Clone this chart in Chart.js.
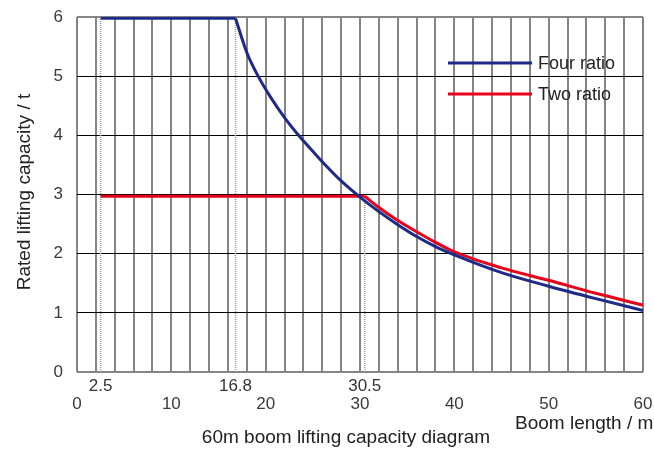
<!DOCTYPE html>
<html><head><meta charset="utf-8">
<script src="https://cdn.jsdelivr.net/npm/chart.js@4.4.0/dist/chart.umd.min.js"></script>
<style>html,body{margin:0;padding:0;background:#fff}#wrap{width:654px;height:449px;position:relative}</style>
</head><body><div id="wrap"><canvas id="c"></canvas></div>
<script>
// ---- data ----
const xTickValues = [0, 10, 20, 30, 40, 50, 60];
const yTickValues = [0, 1, 2, 3, 4, 5, 6];
const markLabels = [2.5, 16.8, 30.5];
const fourFlatX = [2.5, 16.8];
const fourFlatY = [5.98, 5.98];
const fourCurveX = [16.8, 18, 19.2, 20.5, 22, 23.6, 25, 26.5, 28, 30.2, 32, 34, 36, 38, 40, 45, 50, 55, 60];
const fourCurveY = [5.98, 5.40, 5.0, 4.65, 4.30, 3.98, 3.73, 3.47, 3.23, 2.93, 2.71, 2.49, 2.29, 2.12, 1.98, 1.68, 1.45, 1.24, 1.04];
const twoFlatX = [2.5, 30.5];
const twoFlatY = [2.97, 2.97];
const twoCurveX = [30.5, 32, 34, 36, 38, 40, 45, 50, 55, 60];
const twoCurveY = [2.97, 2.78, 2.56, 2.37, 2.19, 2.03, 1.76, 1.55, 1.33, 1.13];
const markTops = [6, 6, 2.97];
const seriesNames = ['Four ratio', 'Two ratio'];

const BLUE = '#1f2a88';
const RED = '#e8001a';
const FONT = '"Liberation Sans", Arial, Helvetica, sans-serif';

function pts(xs, ys) { return xs.map((x, i) => ({ x: x, y: ys[i] })); }

const lineBase = { pointRadius: 0, borderWidth: 3, fill: false, borderCapStyle: 'butt', borderJoinStyle: 'miter' };
const datasets = [
  Object.assign({ data: pts(fourFlatX, fourFlatY), borderColor: BLUE, tension: 0 }, lineBase),
  Object.assign({ data: pts(fourCurveX, fourCurveY), borderColor: BLUE, cubicInterpolationMode: 'monotone' }, lineBase),
  Object.assign({ data: pts(twoFlatX, twoFlatY), borderColor: RED, tension: 0 }, lineBase),
  Object.assign({ data: pts(twoCurveX, twoCurveY), borderColor: RED, cubicInterpolationMode: 'monotone' }, lineBase)
];
markLabels.forEach((v, i) => {
  datasets.push({ data: [{ x: v, y: 0 }, { x: v, y: markTops[i] }], borderColor: '#9a9a9a', borderWidth: 1.5,
    borderDash: [1, 1], pointRadius: 0, fill: false, tension: 0 });
});

const deco = {
  id: 'deco',
  afterDraw(chart) {
    const ctx = chart.ctx, xs = chart.scales.x, a = chart.chartArea;
    ctx.save();
    ctx.fillStyle = '#333';
    ctx.font = '17px ' + FONT;
    ctx.textAlign = 'center';
    ctx.textBaseline = 'middle';
    markLabels.forEach(v => ctx.fillText(String(v), xs.getPixelForValue(v), a.bottom + 14));
    // legend
    const colors = [BLUE, RED];
    ctx.font = '18px ' + FONT;
    ctx.textAlign = 'left';
    seriesNames.forEach((n, i) => {
      const y = a.top + 46 + i * 31;
      ctx.strokeStyle = colors[i];
      ctx.lineWidth = 3;
      ctx.beginPath(); ctx.moveTo(448, y); ctx.lineTo(532, y); ctx.stroke();
      ctx.fillStyle = '#222';
      ctx.fillText(n, 538, y + 1);
    });
    // titles
    ctx.fillStyle = '#222';
    ctx.font = '19px ' + FONT;
    ctx.textAlign = 'left';
    ctx.fillText('Boom length / m', 515, 424);
    ctx.textAlign = 'center';
    ctx.fillText('60m boom lifting capacity diagram', 346, 438);
    ctx.translate(25, 192);
    ctx.rotate(-Math.PI / 2);
    ctx.fillText('Rated lifting capacity / t', 0, 0);
    ctx.restore();
  }
};

new Chart(document.getElementById('c'), {
  type: 'line',
  data: { datasets: datasets },
  plugins: [deco],
  options: {
    responsive: true,
    maintainAspectRatio: false,
    animation: false,
    events: [],
    layout: { padding: { top: 17, right: 11, left: 0, bottom: 0 } },
    plugins: { legend: { display: false }, tooltip: { enabled: false } },
    scales: {
      x: {
        type: 'linear', min: 0, max: 60,
        afterFit(s) { s.height = 77; s.paddingLeft = 0; s.paddingRight = 0; },
        border: { display: false },
        grid: { color: '#858585', lineWidth: 2, drawTicks: false },
        ticks: {
          stepSize: 2, autoSkip: false, maxRotation: 0, padding: 22,
          color: '#3a3a3a', font: { size: 17, family: FONT },
          callback: v => (xTickValues.includes(v) ? String(v) : '')
        }
      },
      y: {
        min: 0, max: 6,
        afterFit(s) { s.width = 77; s.paddingTop = 0; s.paddingBottom = 0; },
        border: { display: false },
        grid: {
          drawTicks: false,
          color: c => (c.tick && (c.tick.value === 0 || c.tick.value === 6) ? '#858585' : '#000'),
          lineWidth: c => (c.tick && (c.tick.value === 0 || c.tick.value === 6) ? 2 : 1)
        },
        ticks: {
          stepSize: 1, padding: 14, color: '#3a3a3a', font: { size: 17, family: FONT },
          callback: v => (yTickValues.includes(v) ? String(v) : '')
        }
      }
    }
  }
});
</script></body></html>
